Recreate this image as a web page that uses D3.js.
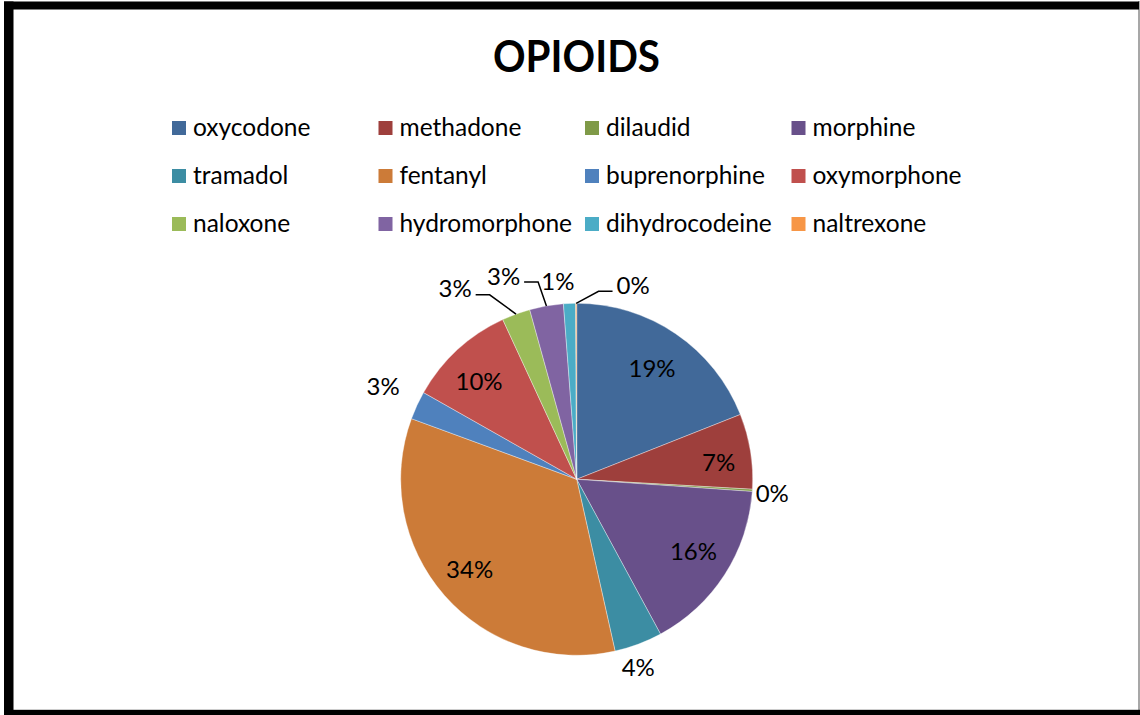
<!DOCTYPE html>
<html>
<head>
<meta charset="utf-8">
<script src="https://cdn.jsdelivr.net/npm/d3@7"></script>
<style>
  html, body { margin: 0; padding: 0; background: #fff; }
  svg { display: block; }
  text { font-family: Lato, "Open Sans", sans-serif; fill: #000; }
</style>
</head>
<body>
<svg id="chart" width="1140" height="715"></svg>
<script>
// ---- data ----
const title = "OPIOIDS";
const categories = ["oxycodone", "methadone", "dilaudid", "morphine", "tramadol", "fentanyl",
  "buprenorphine", "oxymorphone", "naloxone", "hydromorphone", "dihydrocodeine", "naltrexone"];
const shares = [19.0, 6.9, 0.2, 16.0, 4.4, 34.1, 2.6, 9.9, 2.6, 3.1, 1.1, 0.1];
const colors = ["#416999", "#9E3F3C", "#7F9A48", "#68508A", "#3C8DA3", "#CC7B38",
  "#4F81BD", "#C0504D", "#9BBB59", "#8064A2", "#4BACC6", "#F79646"];
// label layout (style): radius of label centre, angular shift from slice mid (deg), leader line
const labelRadius = [134, 143, 196, 137, 198, 140, 215, 138, 226, 216, 199, 202];
const labelShift  = [0, 2.2, 0.4, -1.2, 2.4, 1.1, 0.9, -2.4, -12.4, -9.9, -3.1, 16.4];
const labelLeader = [false, false, false, false, false, false, false, false, true, true, false, true];

const W = 1140, H = 715;
const svg = d3.select("#chart");

// frame
svg.append("rect").attr("x", 4).attr("y", 1).attr("width", W - 4).attr("height", H - 1).attr("fill", "#fff");
svg.append("line").attr("x1", 1139).attr("x2", 1139).attr("y1", 1).attr("y2", 710)
  .attr("stroke", "#8a8a8a").attr("stroke-width", 1.5);
svg.append("rect").attr("x", 4).attr("y", 1.5).attr("width", W - 5).attr("height", 8).attr("fill", "#000");
svg.append("rect").attr("x", 4).attr("y", 1.5).attr("width", 9.5).attr("height", H).attr("fill", "#000");
svg.append("rect").attr("x", 4).attr("y", 709.8).attr("width", W - 4).attr("height", 6).attr("fill", "#000");

// title
svg.append("text").attr("x", 576.5).attr("y", 72)
  .attr("text-anchor", "middle").attr("font-weight", "bold").attr("font-size", 44)
  .attr("textLength", 167).attr("lengthAdjust", "spacingAndGlyphs")
  .text(title);

// legend
const legX = d3.scalePoint().domain(d3.range(4)).range([172, 172 + 3 * 206.5]);
const legY = d3.scalePoint().domain(d3.range(3)).range([136, 232]);
const leg = svg.append("g").selectAll("g").data(categories).join("g")
  .attr("transform", (d, i) => `translate(${legX(i % 4)},${legY(Math.floor(i / 4))})`);
leg.append("rect").attr("x", 0).attr("y", -15).attr("width", 14).attr("height", 14)
  .attr("fill", (d, i) => colors[i]);
leg.append("text").attr("x", 21).attr("y", 0).attr("font-size", 24.5).text(d => d);

// pie
const cx = 576.7, cy = 479.3, R = 176;
const pie = d3.pie().sort(null).value(d => d)(shares);
const arc = d3.arc().innerRadius(0).outerRadius(R);
const g = svg.append("g").attr("transform", `translate(${cx},${cy})`);
g.selectAll("path").data(pie).join("path")
  .attr("d", arc)
  .attr("fill", (d, i) => colors[i])
  .attr("stroke", "#ffffff").attr("stroke-opacity", 0.6).attr("stroke-width", 0.6);

const fmt = v => Math.round(v) + "%";
const total = d3.sum(shares);
const lab = g.append("g");
pie.forEach((d, i) => {
  const mid = (d.startAngle + d.endAngle) / 2;
  const a = mid + labelShift[i] * Math.PI / 180;
  const r = labelRadius[i];
  const x = r * Math.sin(a), y = -r * Math.cos(a);
  const t = lab.append("text").attr("x", x).attr("y", y).attr("dy", "0.36em")
    .attr("text-anchor", "middle").attr("font-size", 24)
    .text(fmt(d.data / total * 100));
  if (labelLeader[i]) {
    const w = t.node().getComputedTextLength();
    const px = R * Math.sin(mid), py = -R * Math.cos(mid);
    const side = x > px ? 1 : -1;
    const edge = x - side * w / 2;
    const end = edge - side * 4;
    const elbow = end - side * 14;
    const ly = y + 6;
    lab.append("path")
      .attr("d", d3.line()([[px, py], [elbow, ly], [end, ly]]))
      .attr("fill", "none").attr("stroke", "#000").attr("stroke-width", 1.5);
  }
});
</script>
</body>
</html>
